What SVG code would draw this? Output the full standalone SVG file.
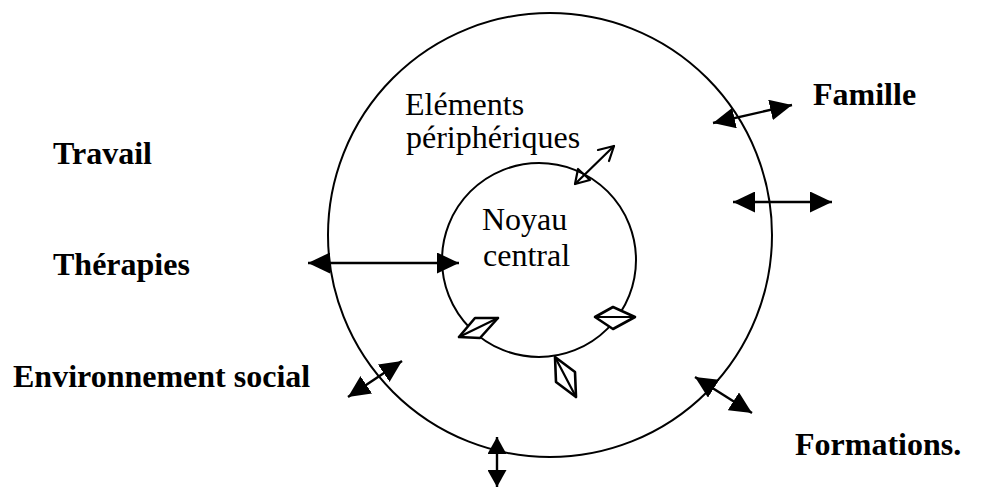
<svg xmlns="http://www.w3.org/2000/svg" width="982" height="488" viewBox="0 0 982 488">
<style>
.ring{fill:none;stroke:#000;stroke-width:2}
.lab{font-family:"Liberation Serif","Times New Roman",serif;font-size:32px;font-weight:bold;fill:#000}
.inner{font-family:"Liberation Serif","Times New Roman",serif;font-size:32px;fill:#000}
.arr{stroke:#000;stroke-width:2.4;fill:none;marker-start:url(#ah);marker-end:url(#ah)}
.arrs{stroke:#000;stroke-width:2.4;fill:none;marker-start:url(#ahs);marker-end:url(#ahs)}
.open{stroke:#000;stroke-width:2.2;fill:none;stroke-linecap:round;stroke-linejoin:round}
.dia{stroke:#000;stroke-width:2.6;fill:#fff;stroke-linejoin:round}
</style>
<defs>
<marker id="ah" markerUnits="userSpaceOnUse" markerWidth="22" markerHeight="21" refX="22" refY="10.5" orient="auto-start-reverse" viewBox="0 0 22 21">
<path d="M0,0 L22,10.5 L0,21 z" fill="#000"/>
</marker>
<marker id="ahs" markerUnits="userSpaceOnUse" markerWidth="17" markerHeight="19" refX="17" refY="9.5" orient="auto-start-reverse" viewBox="0 0 17 19">
<path d="M0,0 L17,9.5 L0,19 z" fill="#000"/>
</marker>
</defs>
<rect width="982" height="488" fill="#fff"/>
<g id="outer-circle"><circle class="ring" cx="550" cy="235" r="222"/></g>
<g id="inner-circle"><circle class="ring" cx="539" cy="260" r="97"/></g>
<g id="label-peripheriques"><text class="inner" x="405" y="115">Eléments</text><text class="inner" x="406" y="148">périphériques</text></g>
<g id="label-noyau"><text class="inner" x="482" y="230">Noyau</text><text class="inner" x="483" y="266">central</text></g>
<g id="node-travail"><text class="lab" x="53" y="164">Travail</text></g>
<g id="node-therapies"><text class="lab" x="53" y="275">Thérapies</text></g>
<g id="node-environnement"><text class="lab" x="13" y="387">Environnement social</text></g>
<g id="node-famille"><text class="lab" x="813" y="105">Famille</text></g>
<g id="node-formations"><text class="lab" x="795" y="455">Formations.</text></g>
<g id="connectors">
<line class="arr" x1="713" y1="123" x2="792" y2="105"/>
<line class="arr" x1="733" y1="202" x2="832" y2="202"/>
<line class="arr" x1="308" y1="263" x2="459" y2="263"/>
<line class="arr" x1="348" y1="397" x2="402" y2="361"/>
<line class="arrs" x1="497" y1="437" x2="497" y2="487"/>
<line class="arr" x1="695" y1="377" x2="752" y2="413"/>
<g id="arrow-peripheral">
<line class="open" x1="575" y1="184" x2="614" y2="146"/>
<polyline class="open" points="598,150 614,146 609,161"/>
<polyline class="open" points="578,169 575,184 590,180 578,169"/>
</g>
<g id="diamonds">
<polygon class="dia" points="475,318 498,318 480,338 459,337"/>
<line class="open" x1="459" y1="337" x2="498" y2="318"/>
<polygon class="dia" points="595,317 613,307 635,317 613,329"/>
<line class="open" x1="595" y1="317" x2="635" y2="317"/>
<polygon class="dia" points="555,357 575,372 576,397 556,382"/>
<line class="open" x1="555" y1="357" x2="576" y2="397"/>
</g>
</g>
</svg>
